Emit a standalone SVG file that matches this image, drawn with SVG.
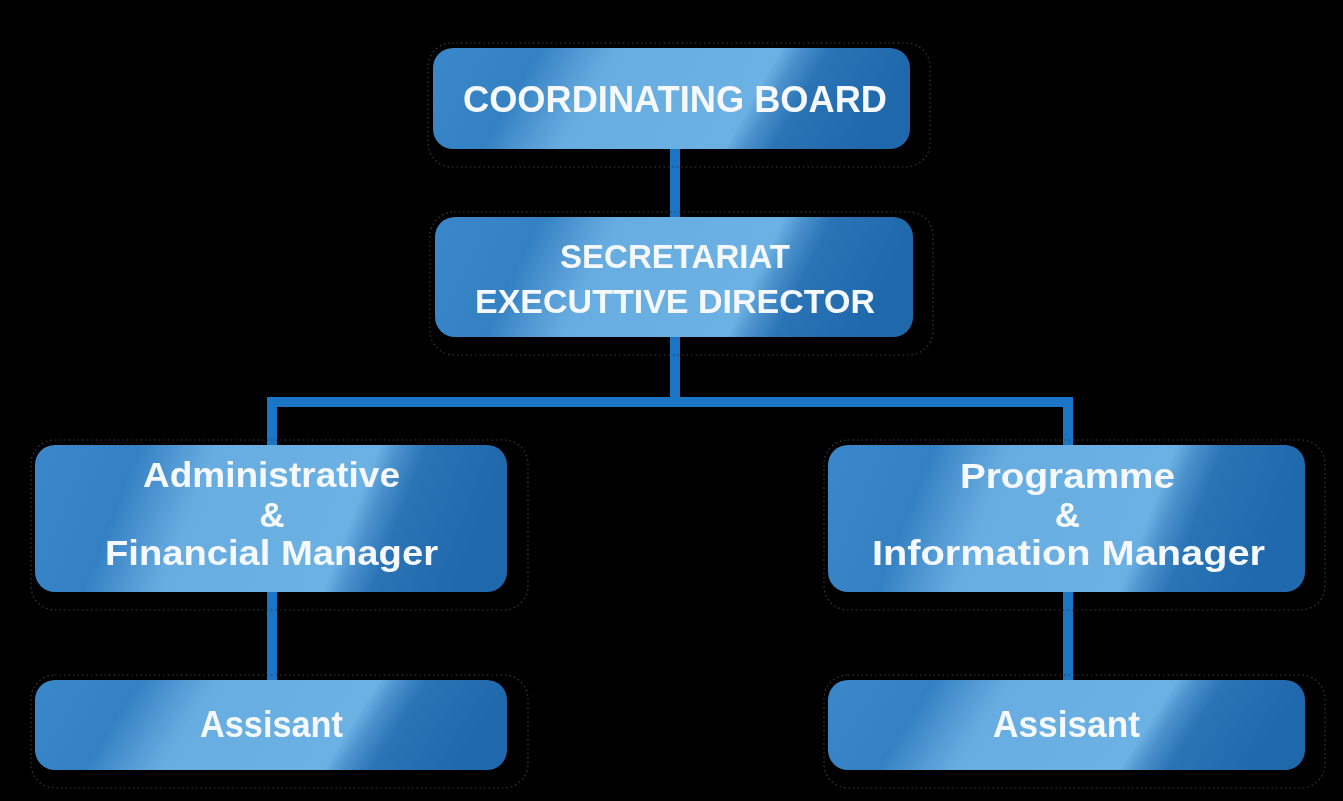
<svg xmlns="http://www.w3.org/2000/svg" width="1343" height="801" viewBox="0 0 1343 801">
<defs>
<linearGradient id="boxGrad" x1="0" y1="0" x2="1" y2="0.12">
<stop offset="0" stop-color="#3a88c9"/>
<stop offset="0.22" stop-color="#3381c3"/>
<stop offset="0.32" stop-color="#579dd6"/>
<stop offset="0.38" stop-color="#68ade1"/>
<stop offset="0.72" stop-color="#6cb1e3"/>
<stop offset="0.76" stop-color="#4b91cc"/>
<stop offset="0.82" stop-color="#2a74b6"/>
<stop offset="1" stop-color="#1f68ab"/>
</linearGradient>
<filter id="soft" x="-5%" y="-20%" width="110%" height="140%">
<feGaussianBlur stdDeviation="0.6"/>
</filter>
</defs>
<style>
.shadow{fill:none;stroke:#3a3a3a;stroke-width:1.2;stroke-dasharray:1.5 3}
.box{fill:url(#boxGrad)}
.lbl{font-family:"Liberation Sans",Arial,sans-serif;font-weight:bold;fill:#f5f9fd;text-anchor:middle}
.conn{stroke:#1b75c5;stroke-width:10;fill:none}
</style>
<rect width="1343" height="801" fill="#000"/>
<g id="connectors">
<line class="conn" x1="675" y1="148" x2="675" y2="220"/>
<line class="conn" x1="675" y1="335" x2="675" y2="402"/>
<line class="conn" x1="267" y1="402" x2="1073" y2="402"/>
<line class="conn" x1="272" y1="402" x2="272" y2="448"/>
<line class="conn" x1="1068" y1="402" x2="1068" y2="448"/>
<line class="conn" x1="272" y1="588" x2="272" y2="683"/>
<line class="conn" x1="1068" y1="588" x2="1068" y2="683"/>
</g>
<g id="coordinating-board">
<rect class="shadow" x="428" y="43" width="502" height="124" rx="24"/>
<rect class="box" x="433" y="48" width="477" height="101" rx="20"/>
<text class="lbl" x="675" y="112" font-size="36" textLength="424" lengthAdjust="spacingAndGlyphs" filter="url(#soft)">COORDINATING BOARD</text>
</g>
<g id="secretariat">
<rect class="shadow" x="430" y="212" width="503" height="143" rx="24"/>
<rect class="box" x="435" y="217" width="478" height="120" rx="20"/>
<text class="lbl" x="675" y="268" font-size="34" textLength="230" lengthAdjust="spacingAndGlyphs" filter="url(#soft)">SECRETARIAT</text>
<text class="lbl" x="675" y="313" font-size="34" textLength="400" lengthAdjust="spacingAndGlyphs" filter="url(#soft)">EXECUTTIVE DIRECTOR</text>
</g>
<g id="admin-financial-manager">
<rect class="shadow" x="31" y="440" width="497" height="170" rx="24"/>
<rect class="box" x="35" y="445" width="472" height="147" rx="20"/>
<text class="lbl" x="271.5" y="487" font-size="35" textLength="257" lengthAdjust="spacingAndGlyphs" filter="url(#soft)">Administrative</text>
<text class="lbl" x="272" y="527" font-size="35" filter="url(#soft)">&amp;</text>
<text class="lbl" x="271.5" y="565" font-size="35" textLength="333" lengthAdjust="spacingAndGlyphs" filter="url(#soft)">Financial Manager</text>
</g>
<g id="programme-information-manager">
<rect class="shadow" x="824" y="440" width="501" height="170" rx="24"/>
<rect class="box" x="828" y="445" width="477" height="147" rx="20"/>
<text class="lbl" x="1067.5" y="488" font-size="35" textLength="215" lengthAdjust="spacingAndGlyphs" filter="url(#soft)">Programme</text>
<text class="lbl" x="1067.5" y="527" font-size="35" filter="url(#soft)">&amp;</text>
<text class="lbl" x="1068.5" y="565" font-size="35" textLength="393" lengthAdjust="spacingAndGlyphs" filter="url(#soft)">Information Manager</text>
</g>
<g id="assistant-left">
<rect class="shadow" x="31" y="675" width="497" height="113" rx="24"/>
<rect class="box" x="35" y="680" width="472" height="90" rx="20"/>
<text class="lbl" x="271.5" y="737" font-size="36" textLength="143" lengthAdjust="spacingAndGlyphs" filter="url(#soft)">Assisant</text>
</g>
<g id="assistant-right">
<rect class="shadow" x="824" y="675" width="501" height="113" rx="24"/>
<rect class="box" x="828" y="680" width="477" height="90" rx="20"/>
<text class="lbl" x="1066.5" y="737" font-size="36" textLength="147" lengthAdjust="spacingAndGlyphs" filter="url(#soft)">Assisant</text>
</g>
</svg>
